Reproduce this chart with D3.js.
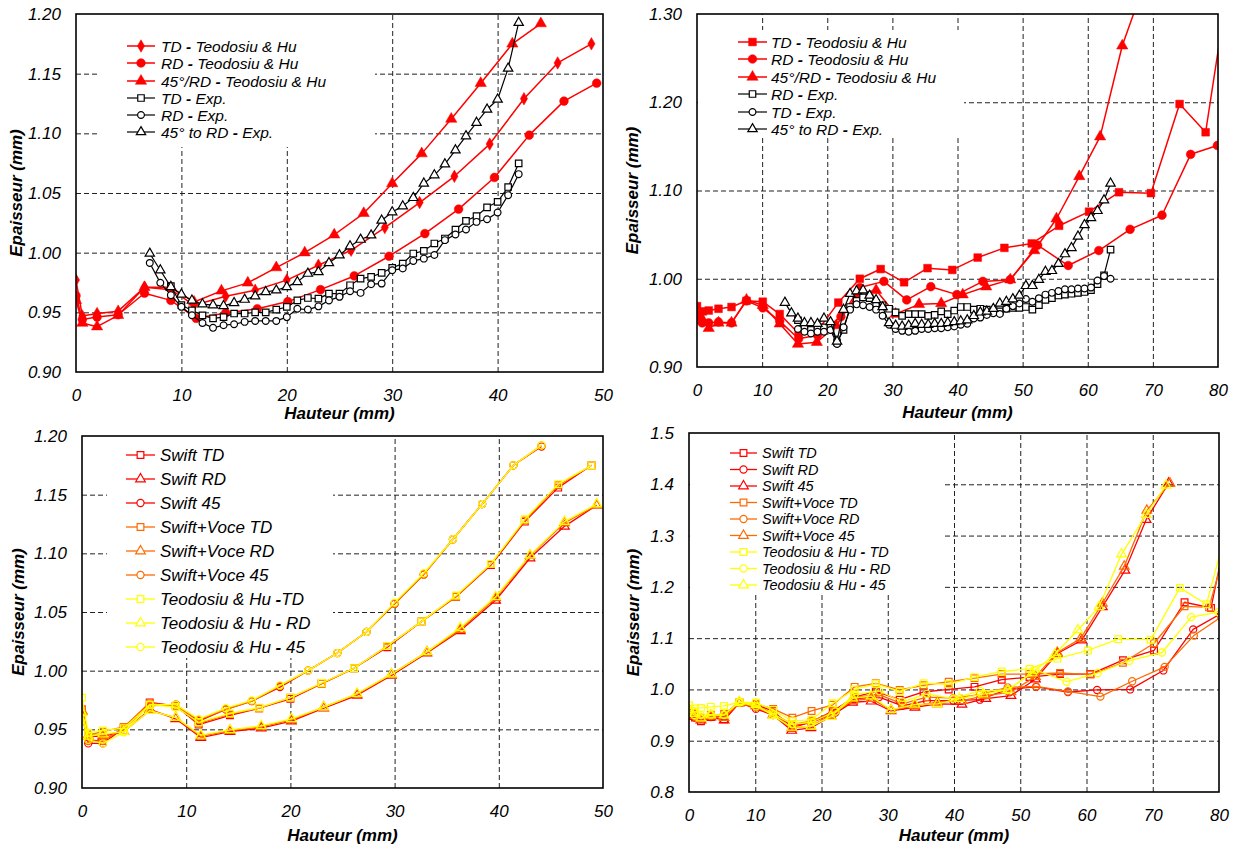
<!DOCTYPE html>
<html><head><meta charset="utf-8">
<script src="https://cdn.jsdelivr.net/npm/d3@7"></script>
<style>
body{margin:0;background:#fff}
svg{display:block}
text{font-family:"Liberation Sans",Arial,Helvetica,sans-serif;white-space:pre}
</style>
</head><body>
<svg id="c" width="1235" height="847"></svg>
<script>
// ---------- DATA ----------
// Panel 1 (and 3): Teodosiu & Hu simulations, height 0-50 mm
const thTD_a = [[0,0.977],[0.6,0.947],[2.0,0.949],[4.0,0.951],[6.5,0.971],[9.0,0.969],[11.2,0.956],[14.2,0.9635],[17.0,0.9685],[20.0,0.977],[23.0,0.9895],[26.1,1.002],[29.3,1.021],[32.6,1.042],[35.9,1.064],[39.25,1.091],[42.5,1.129],[45.7,1.159],[48.9,1.175]];
const thRD_a = [[0,0.964],[0.6,0.944],[2.0,0.946],[4.0,0.948],[6.5,0.966],[9.0,0.960],[11.4,0.945],[14.2,0.9495],[17.2,0.953],[20.1,0.959],[23.2,0.969],[26.4,0.9805],[29.7,0.997],[33.1,1.016],[36.3,1.0365],[39.7,1.063],[43.0,1.0985],[46.3,1.127],[49.4,1.142]];
const th45_a = [[0,0.960],[0.6,0.941],[2.0,0.938],[4.0,0.9475],[6.5,0.971],[9.0,0.971],[11.2,0.9587],[13.8,0.968],[16.3,0.9747],[19.0,0.9875],[21.7,1.000],[24.5,1.015],[27.3,1.033],[30.0,1.058],[32.8,1.083],[35.6,1.112],[38.4,1.142],[41.4,1.175],[44.1,1.192]];
// Panel 1 experiments
const expTD_a = [[9,0.972],[10,0.956],[11,0.9517],[12,0.9475],[13,0.945],[14,0.946],[15,0.949],[16,0.949],[17,0.950],[18,0.950],[19,0.9523],[20,0.9545],[21,0.960],[22,0.962],[23,0.9615],[24,0.9657],[25,0.9657],[26,0.9727],[27,0.9783],[28,0.9797],[29,0.983],[30,0.9873],[31,0.9909],[32,0.9993],[33,1.0015],[34,1.0077],[35,1.0119],[36,1.0194],[37,1.0267],[38,1.0306],[39,1.038],[40,1.0426],[41,1.055],[42,1.0748]];
const expRD_a = [[7,0.9914],[8,0.9747],[9,0.9644],[10,0.9546],[11,0.9476],[12,0.941],[13,0.937],[14,0.9392],[15,0.940],[16,0.942],[17,0.9428],[18,0.9428],[19,0.9428],[20,0.946],[21,0.953],[22,0.9523],[23,0.955],[24,0.960],[25,0.963],[26,0.9677],[27,0.9663],[28,0.9736],[29,0.9741],[30,0.9853],[31,0.9867],[32,0.9931],[33,0.995],[34,0.998],[35,1.0105],[36,1.0152],[37,1.0194],[38,1.0258],[39,1.028],[40,1.0337],[41,1.0482],[42,1.0658]];
const exp45_a = [[7,0.9993],[8,0.9853],[9,0.9713],[10,0.965],[11,0.960],[12,0.9568],[13,0.956],[14,0.9554],[15,0.9579],[16,0.9607],[17,0.9635],[18,0.9671],[19,0.9685],[20,0.9713],[21,0.9755],[22,0.9825],[23,0.9839],[24,0.9914],[25,0.9979],[26,1.0054],[27,1.011],[28,1.0146],[29,1.027],[30,1.034],[31,1.039],[32,1.046],[33,1.058],[34,1.065],[35,1.0742],[36,1.0859],[37,1.0977],[38,1.1089],[39,1.120],[40,1.1284],[41,1.1544],[42,1.1927]];

// Panel 2 (and 4): Teodosiu & Hu simulations, height 0-80 mm
const thTD_b = [[0,0.969],[0.9,0.963],[1.8,0.964],[3.3,0.966],[5.3,0.968],[7.6,0.975],[10.1,0.974],[12.7,0.960],[15.6,0.938],[18.5,0.941],[21.7,0.973],[25.0,1.000],[28.2,1.011],[31.8,0.996],[35.4,1.012],[39.2,1.010],[43.1,1.024],[47.2,1.035],[51.4,1.040],[55.6,1.060],[60.2,1.076],[64.8,1.098],[69.7,1.097],[74.1,1.198],[78.1,1.166],[81.5,1.33]];
const thRD_b = [[0,0.957],[0.8,0.950],[1.8,0.950],[3.3,0.951],[5.3,0.950],[7.6,0.975],[10.1,0.967],[12.7,0.952],[15.6,0.932],[18.5,0.936],[22.1,0.957],[25.0,0.990],[28.7,0.997],[32.2,0.976],[35.9,0.991],[39.9,0.982],[43.9,0.997],[48.1,0.999],[52.3,1.038],[57.0,1.015],[61.7,1.032],[66.5,1.056],[71.4,1.072],[75.8,1.141],[79.9,1.151],[82.0,1.18]];
const th45_b = [[0,0.960],[0.9,0.953],[1.8,0.944],[3.3,0.950],[5.3,0.950],[7.6,0.976],[10.1,0.970],[12.7,0.949],[15.5,0.926],[18.4,0.928],[21.4,0.947],[24.7,0.983],[27.5,0.987],[30.5,0.960],[34.1,0.971],[37.5,0.972],[40.8,0.982],[44.4,0.991],[48.1,0.999],[51.8,1.032],[55.2,1.068],[58.7,1.116],[61.9,1.161],[65.3,1.264],[69.0,1.341],[72.0,1.398]];
// Panel 2 experiments
const expRD_b = [[15.5,0.953],[16.5,0.946],[17.5,0.942],[18.5,0.944],[19.5,0.945],[20.5,0.946],[21.5,0.928],[22.5,0.942],[23.5,0.968],[24.5,0.975],[25.5,0.979],[26.5,0.978],[27.5,0.972],[28.5,0.970],[29.5,0.966],[30.5,0.962],[31.5,0.958],[32.5,0.960],[33.5,0.960],[34.5,0.960],[35.5,0.958],[36.5,0.959],[37.5,0.963],[38.5,0.960],[39.5,0.964],[40.5,0.968],[41.5,0.968],[42.5,0.965],[43.5,0.966],[44.5,0.965],[45.5,0.963],[46.5,0.963],[47.5,0.966],[48.5,0.967],[49.5,0.967],[50.5,0.968],[51.5,0.965],[52.5,0.970],[53.5,0.976],[54.5,0.978],[55.5,0.981],[56.5,0.982],[57.5,0.983],[58.5,0.984],[59.5,0.985],[60.5,0.987],[61.5,0.994],[62.5,1.004],[63.5,1.033]];
const expTD_b = [[15.5,0.943],[16.5,0.940],[17.5,0.938],[18.5,0.940],[19.5,0.940],[20.5,0.942],[21.5,0.926],[22.5,0.945],[23.5,0.965],[24.5,0.971],[25.5,0.970],[26.5,0.968],[27.5,0.965],[28.5,0.958],[29.5,0.948],[30.5,0.943],[31.5,0.941],[32.5,0.940],[33.5,0.941],[34.5,0.943],[35.5,0.943],[36.5,0.944],[37.5,0.944],[38.5,0.945],[39.5,0.946],[40.5,0.948],[41.5,0.949],[42.5,0.955],[43.5,0.956],[44.5,0.959],[45.5,0.961],[46.5,0.960],[47.5,0.966],[48.5,0.969],[49.5,0.972],[50.5,0.977],[51.5,0.974],[52.5,0.978],[53.5,0.982],[54.5,0.984],[55.5,0.986],[56.5,0.988],[57.5,0.988],[58.5,0.989],[59.5,0.989],[60.5,0.990],[61.5,0.998],[62.5,1.003],[63.5,1.000]];
const exp45_b = [[13.5,0.973],[14.5,0.961],[15.5,0.955],[16.5,0.950],[17.5,0.950],[18.5,0.949],[19.5,0.955],[20.5,0.951],[21.5,0.929],[22.5,0.965],[23.5,0.983],[24.5,0.986],[25.5,0.987],[26.5,0.981],[27.5,0.976],[28.5,0.968],[29.5,0.950],[30.5,0.947],[31.5,0.946],[32.5,0.947],[33.5,0.949],[34.5,0.948],[35.5,0.948],[36.5,0.949],[37.5,0.949],[38.5,0.950],[39.5,0.951],[40.5,0.952],[41.5,0.953],[42.5,0.958],[43.5,0.962],[44.5,0.963],[45.5,0.966],[46.5,0.972],[47.5,0.974],[48.5,0.977],[49.5,0.981],[50.5,0.992],[51.5,0.992],[52.5,0.999],[53.5,1.008],[54.5,1.009],[55.5,1.017],[56.5,1.028],[57.5,1.035],[58.5,1.048],[59.5,1.061],[60.5,1.069],[61.5,1.077],[62.5,1.089],[63.5,1.108]];

// Panel 3: Swift and Swift+Voce, 0-50 mm
const swTD_a = [[0,0.967],[0.6,0.941],[2.0,0.940],[4.0,0.951],[6.5,0.973],[9.0,0.970],[11.2,0.954],[14.2,0.962],[17.0,0.968],[20.0,0.976],[23.0,0.989],[26.1,1.002],[29.3,1.020],[32.6,1.042],[35.9,1.063],[39.25,1.090],[42.5,1.127],[45.7,1.156],[48.9,1.175]];
const swRD_a = [[0,0.965],[0.6,0.944],[2.0,0.944],[4.0,0.948],[6.5,0.967],[9.0,0.959],[11.4,0.943],[14.2,0.948],[17.2,0.951],[20.1,0.957],[23.2,0.968],[26.4,0.979],[29.7,0.996],[33.1,1.015],[36.3,1.034],[39.7,1.060],[43.0,1.096],[46.3,1.123],[49.4,1.141]];
const sw45_a = [[0,0.962],[0.6,0.938],[2.0,0.938],[4.0,0.951],[6.5,0.971],[9.0,0.971],[11.2,0.957],[13.8,0.967],[16.3,0.974],[19.0,0.986],[21.7,1.000],[24.5,1.015],[27.3,1.033],[30.0,1.057],[32.8,1.082],[35.6,1.112],[38.4,1.142],[41.4,1.175],[44.1,1.191]];
const svTD_a = [[0,0.967],[0.6,0.945],[2.0,0.948],[4.0,0.952],[6.5,0.972],[9.0,0.970],[11.2,0.955],[14.2,0.963],[17.0,0.968],[20.0,0.977],[23.0,0.989],[26.1,1.002],[29.3,1.021],[32.6,1.042],[35.9,1.063],[39.25,1.091],[42.5,1.128],[45.7,1.158],[48.9,1.175]];
const svRD_a = [[0,0.966],[0.6,0.945],[2.0,0.945],[4.0,0.948],[6.5,0.966],[9.0,0.960],[11.4,0.944],[14.2,0.949],[17.2,0.952],[20.1,0.958],[23.2,0.969],[26.4,0.980],[29.7,0.997],[33.1,1.016],[36.3,1.035],[39.7,1.062],[43.0,1.098],[46.3,1.126],[49.4,1.141]];
const sv45_a = [[0,0.963],[0.6,0.940],[2.0,0.940],[4.0,0.951],[6.5,0.970],[9.0,0.971],[11.2,0.958],[13.8,0.967],[16.3,0.974],[19.0,0.987],[21.7,1.000],[24.5,1.015],[27.3,1.033],[30.0,1.057],[32.8,1.082],[35.6,1.112],[38.4,1.142],[41.4,1.175],[44.1,1.192]];

// Panel 4: Swift and Swift+Voce, 0-80 mm
const swTD_b = [[0,0.948],[0.9,0.945],[1.8,0.938],[3.3,0.946],[5.3,0.942],[7.6,0.974],[10.1,0.970],[12.7,0.958],[15.6,0.925],[18.5,0.937],[21.7,0.958],[25.0,0.985],[28.2,0.996],[31.8,0.980],[35.4,0.995],[39.2,1.000],[43.1,1.005],[47.2,1.019],[51.4,1.024],[56.0,1.030],[60.6,1.030],[65.5,1.057],[70.2,1.076],[74.8,1.170],[78.8,1.159],[81.5,1.33]];
const svTD_b = [[0,0.955],[0.9,0.950],[1.8,0.945],[3.3,0.950],[5.3,0.952],[7.6,0.975],[10.1,0.972],[12.7,0.962],[15.6,0.945],[18.5,0.958],[21.7,0.970],[25.0,1.005],[28.2,1.012],[31.8,0.999],[35.4,1.008],[39.2,1.015],[43.1,1.022],[47.2,1.030],[51.4,1.030],[56.0,1.032],[60.6,1.029],[65.5,1.052],[70.2,1.090],[74.8,1.162],[78.5,1.160],[81.5,1.30]];
const swRD_b = [[0,0.952],[0.9,0.945],[1.8,0.943],[3.3,0.946],[5.3,0.948],[7.6,0.974],[10.1,0.962],[12.7,0.950],[15.6,0.930],[18.5,0.935],[22.1,0.955],[25.0,0.982],[28.7,0.985],[32.2,0.968],[35.9,0.978],[39.9,0.978],[43.9,0.980],[48.1,1.000],[52.4,1.005],[57.2,0.995],[61.6,0.999],[66.6,1.000],[71.6,1.037],[76.1,1.117],[80.3,1.148]];
const svRD_b = [[0,0.954],[0.9,0.947],[1.8,0.944],[3.3,0.948],[5.3,0.950],[7.6,0.974],[10.1,0.965],[12.7,0.953],[15.6,0.932],[18.5,0.938],[22.1,0.958],[25.0,0.985],[28.7,0.990],[32.2,0.972],[35.9,0.985],[39.9,0.983],[43.9,0.990],[48.1,1.004],[52.4,1.006],[57.2,0.996],[62.1,0.986],[66.9,1.016],[71.8,1.044],[76.2,1.105],[80.3,1.141]];
const sw45_b = [[0,0.958],[0.9,0.950],[1.8,0.940],[3.3,0.946],[5.3,0.940],[7.6,0.974],[10.1,0.968],[12.7,0.950],[15.5,0.920],[18.4,0.925],[21.4,0.948],[24.7,0.975],[27.5,0.977],[30.5,0.958],[34.1,0.965],[37.5,0.972],[41.2,0.971],[44.8,0.982],[48.6,0.988],[52.3,1.020],[55.6,1.070],[59.3,1.096],[62.4,1.161],[65.8,1.232],[69.0,1.331],[72.4,1.402]];
const sv45_b = [[0,0.960],[0.9,0.952],[1.8,0.942],[3.3,0.948],[5.3,0.945],[7.6,0.974],[10.1,0.970],[12.7,0.952],[15.5,0.925],[18.4,0.928],[21.4,0.950],[24.7,0.978],[27.5,0.982],[30.5,0.960],[34.1,0.968],[37.5,0.975],[41.2,0.978],[44.8,0.988],[48.6,0.995],[52.3,1.025],[55.6,1.072],[59.1,1.099],[62.4,1.168],[65.7,1.240],[69.1,1.349],[72.6,1.402]];

// Ticks
const xTicks50 = [0,10,20,30,40,50];
const xTicks80 = [0,10,20,30,40,50,60,70,80];
const yTicksA = [0.90,0.95,1.00,1.05,1.10,1.15,1.20];
const yTicksB = [0.90,1.00,1.10,1.20,1.30];
const yTicksD = [0.8,0.9,1.0,1.1,1.2,1.3,1.4,1.5];

// Legend labels
const labels1 = ["TD - Teodosiu & Hu","RD - Teodosiu & Hu","45°/RD - Teodosiu & Hu","TD - Exp.","RD - Exp.","45° to RD - Exp."];
const labels2 = ["TD - Teodosiu & Hu","RD - Teodosiu & Hu","45°/RD - Teodosiu & Hu","RD - Exp.","TD - Exp.","45° to RD - Exp."];
const labels3 = ["Swift TD","Swift RD","Swift 45","Swift+Voce TD","Swift+Voce RD","Swift+Voce 45","Teodosiu & Hu -TD","Teodosiu & Hu - RD","Teodosiu & Hu - 45"];
const labels4 = ["Swift TD","Swift RD","Swift 45","Swift+Voce TD","Swift+Voce RD","Swift+Voce 45","Teodosiu & Hu - TD","Teodosiu & Hu - RD","Teodosiu & Hu - 45"];

// ---------- DRAWING ----------
const RED="#ff0000", ORANGE="#ff6a00", YELLOW="#ffff00", BLACK="#000000";
const svg = d3.select("#c");
const SYM = {square:d3.symbolSquare, circle:d3.symbolCircle, triangle:d3.symbolTriangle, diamond:d3.symbolDiamond};

function addLabel(t, label){
  label.split(/( - | -)/).forEach(p=>{
    const s = t.append("tspan").text(p);
    if (/^ -/.test(p)) s.attr("font-weight","bold");
  });
}

function panel(cfg, idx){
  const x = d3.scaleLinear().domain(cfg.xDomain).range([cfg.left,cfg.right]);
  const y = d3.scaleLinear().domain(cfg.yDomain).range([cfg.bottom,cfg.top]);
  const g = svg.append("g");
  const h = cfg.bottom-cfg.top, w = cfg.right-cfg.left;

  // grid via axes
  const gx = g.append("g").attr("transform",`translate(0,${cfg.bottom})`)
    .call(d3.axisBottom(x).tickValues(cfg.xTicks.slice(1,-1)).tickSize(-h).tickFormat(""));
  const gy = g.append("g").attr("transform",`translate(${cfg.left},0)`)
    .call(d3.axisLeft(y).tickValues(cfg.yTicks.slice(1,-1)).tickSize(-w).tickFormat(""));
  [gx,gy].forEach(a=>{a.select(".domain").remove();
    a.selectAll("line").attr("stroke","#222").attr("stroke-width",1).attr("stroke-dasharray","5,3");});

  // legend background hides grid
  const lb = cfg.legendBox;
  g.append("rect").attr("x",lb[0]).attr("y",lb[1]).attr("width",lb[2]-lb[0]).attr("height",lb[3]-lb[1]).attr("fill","#fff");

  // clip
  const cid = "clip"+idx;
  g.append("clipPath").attr("id",cid).append("rect")
    .attr("x",cfg.left).attr("y",cfg.top).attr("width",w).attr("height",h);
  const dg = g.append("g").attr("clip-path",`url(#${cid})`);
  const line = d3.line().x(d=>x(d[0])).y(d=>y(d[1]));
  cfg.series.forEach(s=>{
    dg.append("path").datum(s.data).attr("d",line).attr("fill","none")
      .attr("stroke",s.color).attr("stroke-width",s.lw||1.4).attr("stroke-linejoin","round");
    dg.selectAll(null).data(s.data).join("path")
      .attr("transform",d=>`translate(${x(d[0])},${y(d[1])})`)
      .attr("d",d3.symbol().type(SYM[s.marker]).size(s.size))
      .attr("fill",s.filled?s.color:(s.fillWhite?"#fff":"none"))
      .attr("stroke",s.color).attr("stroke-width",s.filled?0.5:1.2);
  });

  // frame
  g.append("rect").attr("x",cfg.left).attr("y",cfg.top).attr("width",w).attr("height",h)
    .attr("fill","none").attr("stroke","#000").attr("stroke-width",1.6);

  // tick labels via axes
  const ax = g.append("g").attr("transform",`translate(0,${cfg.bottom})`)
    .call(d3.axisBottom(x).tickValues(cfg.xTicks).tickSize(0).tickPadding(17).tickFormat(d3.format("d")));
  const ay = g.append("g").attr("transform",`translate(${cfg.left},0)`)
    .call(d3.axisLeft(y).tickValues(cfg.yTicks).tickSize(0).tickPadding(15).tickFormat(d3.format(cfg.yFmt)));
  [ax,ay].forEach(a=>{a.select(".domain").remove();
    a.selectAll("text").attr("font-size",17).attr("font-style","italic").attr("fill","#000")
     .attr("font-family",'"Liberation Sans",Arial,sans-serif');});

  // axis titles
  g.append("text").attr("x",(cfg.left+cfg.right)/2).attr("y",cfg.xTitleY).attr("text-anchor","middle")
    .attr("font-size",17).attr("font-weight","bold").attr("font-style","italic").text("Hauteur (mm)");
  const cy = (cfg.top+cfg.bottom)/2;
  g.append("text").attr("transform",`translate(${cfg.yTitleX},${cy}) rotate(-90)`).attr("text-anchor","middle")
    .attr("dominant-baseline","central")
    .attr("font-size",17).attr("font-weight","bold").attr("font-style","italic").text("Epaisseur (mm)");

  // legend
  const L = cfg.legend;
  cfg.series.forEach((s,i)=>{
    const ry = L.rows[i];
    g.append("line").attr("x1",L.x0).attr("x2",L.x1).attr("y1",ry).attr("y2",ry)
      .attr("stroke",s.color).attr("stroke-width",s.lw||1.4);
    g.append("path").attr("transform",`translate(${(L.x0+L.x1)/2},${ry})`)
      .attr("d",d3.symbol().type(SYM[s.marker]).size(s.size))
      .attr("fill",s.filled?s.color:"#fff").attr("stroke",s.color).attr("stroke-width",s.filled?0.5:1.2);
    const t = g.append("text").attr("x",L.tx).attr("y",ry).attr("dominant-baseline","central")
      .attr("font-size",L.fs).attr("font-style","italic").attr("fill","#000");
    addLabel(t, L.labels[i]);
  });
}

panel({
  left:76,right:603,top:14,bottom:372,xDomain:[0,50],yDomain:[0.90,1.20],
  xTicks:xTicks50,yTicks:yTicksA,yFmt:".2f",xTitleY:419,yTitleX:16,
  legendBox:[97,15,375,147],
  legend:{x0:127,x1:155,tx:161,fs:15.5,rows:[46,63,81,98,115,132],labels:labels1},
  series:[
    {data:thTD_a,color:RED,marker:"diamond",size:45,filled:true,lw:1.5},
    {data:thRD_a,color:RED,marker:"circle",size:60,filled:true,lw:1.5},
    {data:th45_a,color:RED,marker:"triangle",size:55,filled:true,lw:1.5},
    {data:expTD_a,color:BLACK,marker:"square",size:42,fillWhite:true,lw:1.2},
    {data:expRD_a,color:BLACK,marker:"circle",size:36,fillWhite:true,lw:1.2},
    {data:exp45_a,color:BLACK,marker:"triangle",size:38,fillWhite:true,lw:1.2}
  ]},1);

panel({
  left:697,right:1218,top:14,bottom:367,xDomain:[0,80],yDomain:[0.90,1.30],
  xTicks:xTicks80,yTicks:yTicksB,yFmt:".2f",xTitleY:418,yTitleX:632,
  legendBox:[698,30,964,137],
  legend:{x0:738,x1:767,tx:771,fs:15.5,rows:[42,59,77,94,112,129],labels:labels2},
  series:[
    {data:thTD_b,color:RED,marker:"square",size:60,filled:true,lw:1.5},
    {data:thRD_b,color:RED,marker:"circle",size:60,filled:true,lw:1.5},
    {data:th45_b,color:RED,marker:"triangle",size:55,filled:true,lw:1.5},
    {data:expRD_b,color:BLACK,marker:"square",size:42,fillWhite:true,lw:1.2},
    {data:expTD_b,color:BLACK,marker:"circle",size:36,fillWhite:true,lw:1.2},
    {data:exp45_b,color:BLACK,marker:"triangle",size:38,fillWhite:true,lw:1.2}
  ]},2);

panel({
  left:82,right:603,top:436,bottom:788,xDomain:[0,50],yDomain:[0.90,1.20],
  xTicks:xTicks50,yTicks:yTicksA,yFmt:".2f",xTitleY:841,yTitleX:18,
  legendBox:[107,437,333,658],
  legend:{x0:126,x1:155,tx:160,fs:17,rows:[455,479,503,527,551,575,599,623,647],labels:labels3},
  series:[
    {data:swTD_a,color:RED,marker:"square",size:45,lw:1.3},
    {data:swRD_a,color:RED,marker:"triangle",size:40,lw:1.3},
    {data:sw45_a,color:RED,marker:"circle",size:40,lw:1.3},
    {data:svTD_a,color:ORANGE,marker:"square",size:45,lw:1.3},
    {data:svRD_a,color:ORANGE,marker:"triangle",size:40,lw:1.3},
    {data:sv45_a,color:ORANGE,marker:"circle",size:40,lw:1.3},
    {data:thTD_a,color:YELLOW,marker:"square",size:45,lw:1.3},
    {data:thRD_a,color:YELLOW,marker:"triangle",size:40,lw:1.3},
    {data:th45_a,color:YELLOW,marker:"circle",size:40,lw:1.3}
  ]},3);

panel({
  left:689,right:1219,top:433,bottom:792,xDomain:[0,80],yDomain:[0.8,1.5],
  xTicks:xTicks80,yTicks:yTicksD,yFmt:".1f",xTitleY:841,yTitleX:633,
  legendBox:[690,434,943,595],
  legend:{x0:730,x1:757,tx:762,fs:14.5,rows:[453,469.5,486,502.5,519,535.5,552,568.5,585],labels:labels4},
  series:[
    {data:swTD_b,color:RED,marker:"square",size:45,lw:1.3},
    {data:swRD_b,color:RED,marker:"circle",size:40,lw:1.3},
    {data:sw45_b,color:RED,marker:"triangle",size:40,lw:1.3},
    {data:svTD_b,color:ORANGE,marker:"square",size:45,lw:1.3},
    {data:svRD_b,color:ORANGE,marker:"circle",size:40,lw:1.3},
    {data:sv45_b,color:ORANGE,marker:"triangle",size:40,lw:1.3},
    {data:thTD_b,color:YELLOW,marker:"square",size:45,lw:1.3},
    {data:thRD_b,color:YELLOW,marker:"circle",size:40,lw:1.3},
    {data:th45_b,color:YELLOW,marker:"triangle",size:40,lw:1.3}
  ]},4);
</script>
</body></html>
